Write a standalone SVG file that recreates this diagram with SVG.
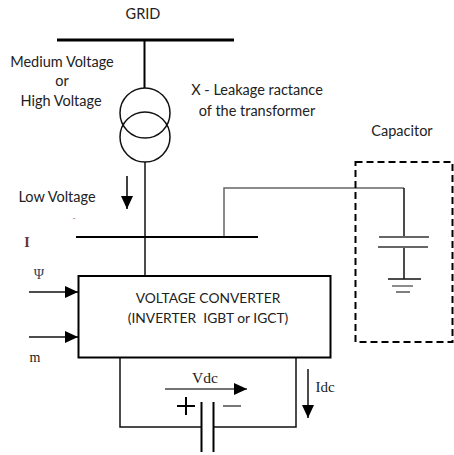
<svg xmlns="http://www.w3.org/2000/svg" width="454" height="455" viewBox="0 0 454 455">
<style>
.l{fill:none;stroke:#111;stroke-width:1.5}
.g{fill:none;stroke:#666;stroke-width:1.5}
.b{fill:none;stroke:#000;stroke-width:2}
.t{font-family:Lato,"Liberation Sans",sans-serif;font-size:14.5px;fill:#222;text-anchor:middle}
.s{font-family:"Liberation Serif",serif;font-size:14px;fill:#222;text-anchor:middle}
</style>
<defs>
<marker id="a" markerUnits="userSpaceOnUse" markerWidth="14" markerHeight="14" refX="13" refY="7" orient="auto"><path d="M0 1L13 7L0 13Z" fill="#000"/></marker>
</defs>
<rect width="454" height="455" fill="#fff"/>
<g id="connectors">
<path class="b" d="M144.500 41V88"/>
<path class="l" d="M145 162V275"/>
<path class="g" d="M224 237V188H404"/>
<path class="l" d="M404 188V237M404 246V279"/>
<path class="l" d="M127 176V209" marker-end="url(#a)" style="stroke-width:1.6"/>
<path class="l" d="M29 292H78" marker-end="url(#a)"/>
<path class="l" d="M29 337H78" marker-end="url(#a)"/>
<path class="l" d="M120 358V427H201M214 427H296V358"/>
<path class="g" d="M165 389H247" marker-end="url(#a)" style="stroke:#444"/>
<path class="l" d="M308 369V418" marker-end="url(#a)"/>
</g>
<g id="grid"><path d="M57 40H234" stroke="#000" stroke-width="3" fill="none"/><text class="t" x="143" y="19">GRID</text></g>
<g id="transformer"><circle class="l" cx="145" cy="113" r="25"/><circle class="l" cx="145" cy="137" r="25"/></g>
<g id="low-voltage-bus"><path class="b" d="M76 237H258"/></g>
<g id="converter"><rect x="78.500" y="276" width="252" height="81.500" fill="#fff" stroke="#000" stroke-width="2"/>
<text class="t" x="208" y="303" style="font-size:13.8px">VOLTAGE CONVERTER</text><text class="t" x="208" y="323" xml:space="preserve" style="font-size:13.8px">(INVERTER  IGBT or IGCT)</text></g>
<g id="dc-capacitor">
<path class="b" d="M201.500 402V452M213.500 402V452"/>
<path class="b" d="M177 406H195M186 397V415"/>
<path d="M223 406H241" stroke="#777" stroke-width="2" fill="none"/>
</g>
<g id="capacitor"><rect x="355.500" y="162" width="97" height="180" fill="none" stroke="#000" stroke-width="2" stroke-dasharray="7 4"/>
<path class="g" d="M379 237H429M378 247H428" style="stroke-width:2"/>
<path class="l" d="M388 279H421"/><path class="g" d="M392 286H413"/><path class="l" d="M396 292H410" style="stroke:#555"/>
<text class="t" x="402" y="136">Capacitor</text></g>
<g id="labels">
<text class="t" x="62" y="67">Medium Voltage</text><text class="t" x="62" y="86">or</text><text class="t" x="61" y="106">High Voltage</text>
<text class="t" x="257" y="95">X - Leakage ractance</text><text class="t" x="257" y="116">of the transformer</text>
<text class="t" x="57" y="202">Low Voltage</text>
<text class="s" x="74" y="221" style="font-size:8px;fill:#a65">-</text>
<text class="s" x="27" y="247" style="font-weight:bold;fill:#633">I</text>
<text class="s" x="39" y="279" style="fill:#345">Ψ</text>
<text class="s" x="35" y="362">m</text>
<text class="s" x="205" y="383" style="font-size:15.500px">Vdc</text>
<text class="s" x="325" y="392" style="font-size:15px">Idc</text>
</g>
</svg>
